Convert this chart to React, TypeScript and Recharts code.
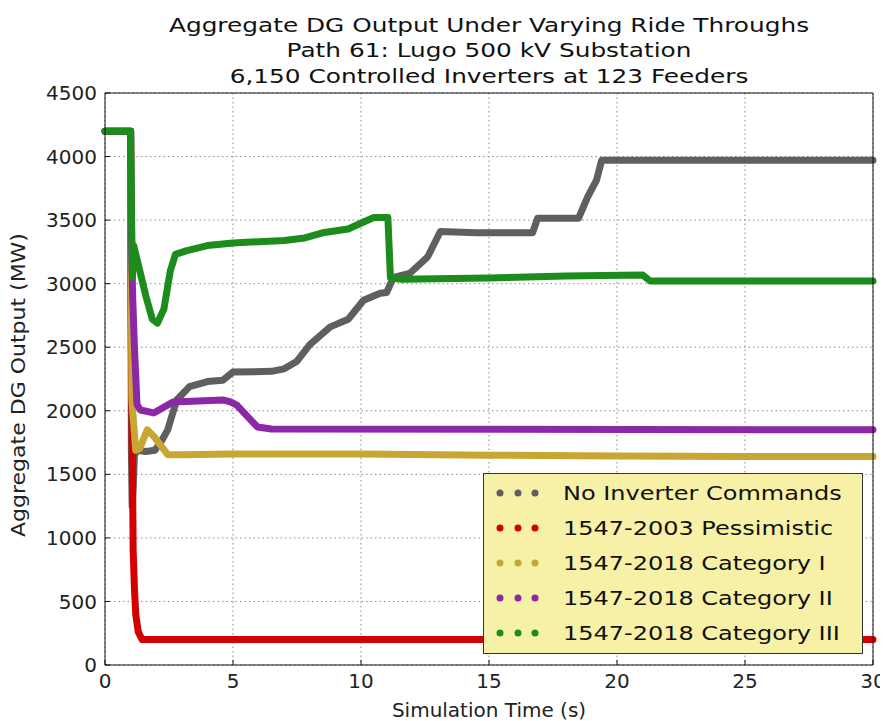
import { CartesianGrid, Label, Legend, Line, LineChart, XAxis, YAxis } from "recharts";

// axis ticks
const timeTicks = [0, 5, 10, 15, 20, 25, 30];
const mwTicks = [0, 500, 1000, 1500, 2000, 2500, 3000, 3500, 4000, 4500];

// No Inverter Commands
const noCmdT = [0, 1.0, 1.03, 1.06, 1.1, 1.15, 1.25, 1.6, 1.95, 2.2, 2.45, 2.8, 3.3, 4.0, 4.6, 5.0, 6.5, 7.0, 7.5, 8.0, 8.8, 9.5, 10.1, 10.75, 11.0, 11.27, 11.9, 12.6, 13.1, 14.5, 16.7, 16.9, 18.5, 18.85, 19.2, 19.4, 30];
const noCmdMW = [4200, 4200, 1700, 1250, 1400, 1650, 1690, 1680, 1690, 1760, 1850, 2085, 2190, 2230, 2240, 2305, 2310, 2330, 2390, 2520, 2660, 2720, 2870, 2925, 2930, 3050, 3080, 3210, 3410, 3400, 3400, 3515, 3515, 3680, 3815, 3970, 3970];

// 1547-2003 Pessimistic
const pessT = [0, 1.0, 1.02, 1.05, 1.08, 1.1, 1.15, 1.2, 1.3, 1.45, 30];
const pessMW = [4200, 4200, 2800, 2000, 1400, 900, 600, 400, 260, 200, 200];

// 1547-2018 Category I
const cat1T = [0, 1.0, 1.05, 1.1, 1.2, 1.35, 1.65, 1.9, 2.45, 3.0, 5, 10, 15, 20, 25, 30];
const cat1MW = [4200, 4200, 2100, 1950, 1690, 1700, 1850, 1800, 1655, 1655, 1660, 1660, 1650, 1645, 1640, 1640];

// 1547-2018 Category II
const cat2T = [0, 1.0, 1.03, 1.08, 1.15, 1.25, 1.38, 1.9, 2.67, 4.6, 4.9, 5.15, 5.95, 6.5, 30];
const cat2MW = [4200, 4200, 3400, 2900, 2500, 2050, 2006, 1983, 2070, 2085, 2070, 2045, 1873, 1857, 1850];

// 1547-2018 Category III
const cat3T = [0, 1.0, 1.04, 1.07, 1.12, 1.3, 1.6, 1.85, 2.05, 2.3, 2.55, 2.75, 3.2, 4.0, 5.0, 7.0, 7.8, 8.5, 9.5, 10.1, 10.5, 11.05, 11.15, 11.6, 15, 18, 21.0, 21.3, 30];
const cat3MW = [4200, 4200, 3500, 3050, 3300, 3150, 2900, 2720, 2690, 2800, 3100, 3230, 3260, 3300, 3320, 3340, 3360, 3400, 3430, 3485, 3520, 3520, 3045, 3035, 3045, 3060, 3068, 3020, 3020];

const zip = (t: number[], mw: number[]) => t.map((v, i) => ({ t: v, mw: mw[i] }));

const series = [
  { name: "No Inverter Commands", color: "#5f5f5f", data: zip(noCmdT, noCmdMW) },
  { name: "1547-2003 Pessimistic", color: "#d40000", data: zip(pessT, pessMW) },
  { name: "1547-2018 Category I", color: "#c8a632", data: zip(cat1T, cat1MW) },
  { name: "1547-2018 Category II", color: "#8c28a8", data: zip(cat2T, cat2MW) },
  { name: "1547-2018 Category III", color: "#1c8c1c", data: zip(cat3T, cat3MW) },
];

const titleLines = [
  "Aggregate DG Output Under Varying Ride Throughs",
  "Path 61: Lugo 500 kV Substation",
  "6,150 Controlled Inverters at 123 Feeders",
];

const FONT = "'DejaVu Sans', sans-serif";

// legend rows follow the plotting order, not the alphabetical payload order
function LegendBox({ payload }: any) {
  const byName = new Map((payload ?? []).map((p: any) => [p.value, p.color]));
  return (
    <svg width={380} height={181} style={{ display: "block" }}>
      <rect x={0.5} y={0.5} width={379} height={180} fill="#f6f1a6" stroke="#333" />
      {series.map((s, i) => {
        const cy = 20 + i * 35;
        const color = (byName.get(s.name) as string) ?? s.color;
        return (
          <g key={s.name}>
            {[17, 35, 52].map((cx) => (
              <circle key={cx} cx={cx} cy={cy} r={3.5} fill={color} />
            ))}
            <text
              transform={`translate(80,${cy + 7}) scale(1.2,1)`}
              fontFamily={FONT}
              fontSize={20}
              fill="#111"
            >
              {s.name}
            </text>
          </g>
        );
      })}
    </svg>
  );
}

export default function App() {
  return (
    <div style={{ position: "relative", width: 880, height: 713, fontFamily: FONT }}>
      <LineChart width={880} height={713} margin={{ top: 84, right: 14, bottom: 0, left: 0 }}>
        <CartesianGrid stroke="#8a8a8a" strokeDasharray="1.5 3" />
        <XAxis
          type="number"
          dataKey="t"
          domain={[0, 30]}
          ticks={timeTicks}
          height={56}
          stroke="#111"
          tickSize={-5}
          tickMargin={14}
          tick={{ fontSize: 20, fill: "#222", fontFamily: FONT }}
        >
          <Label
            content={() => (
              <text x={481} y={709} textAnchor="middle" fontFamily={FONT} fontSize={20} fill="#222">
                Simulation Time (s)
              </text>
            )}
          />
        </XAxis>
        <XAxis
          xAxisId="top"
          orientation="top"
          type="number"
          domain={[0, 30]}
          ticks={timeTicks}
          height={1}
          stroke="#111"
          tickSize={-5}
          tick={false}
        />
        <YAxis
          type="number"
          domain={[0, 4500]}
          ticks={mwTicks}
          width={97}
          stroke="#111"
          tickSize={-5}
          tickMargin={13}
          tick={{ fontSize: 20, fill: "#222", fontFamily: FONT }}
        >
          <Label
            content={() => (
              <text
                transform="translate(17,377) rotate(-90) scale(1.1,1)"
                textAnchor="middle"
                fontFamily={FONT}
                fontSize={20}
                fill="#222"
              >
                Aggregate DG Output (MW)
              </text>
            )}
          />
        </YAxis>
        <YAxis
          yAxisId="right"
          orientation="right"
          type="number"
          domain={[0, 4500]}
          ticks={mwTicks}
          width={1}
          stroke="#111"
          tickSize={-5}
          tick={false}
        />
        {series.map((s) => (
          <Line
            key={s.name}
            data={s.data}
            dataKey="mw"
            name={s.name}
            type="linear"
            stroke={s.color}
            strokeWidth={7}
            strokeLinejoin="round"
            strokeLinecap="round"
            dot={false}
            isAnimationActive={false}
          />
        ))}
        <Legend
          content={LegendBox}
          layout="horizontal"
          align="center"
          verticalAlign="middle"
          wrapperStyle={{ left: 475, top: 465, width: 380, height: 181 }}
        />
      </LineChart>
      <svg
        width={880}
        height={90}
        style={{ position: "absolute", left: 0, top: 0, pointerEvents: "none" }}
      >
        {titleLines.map((line, i) => (
          <text
            key={line}
            transform={`translate(481,${23.5 + i * 25.5}) scale(1.24,1)`}
            textAnchor="middle"
            fontFamily={FONT}
            fontSize={20}
            fill="#111"
          >
            {line}
          </text>
        ))}
      </svg>
    </div>
  );
}
